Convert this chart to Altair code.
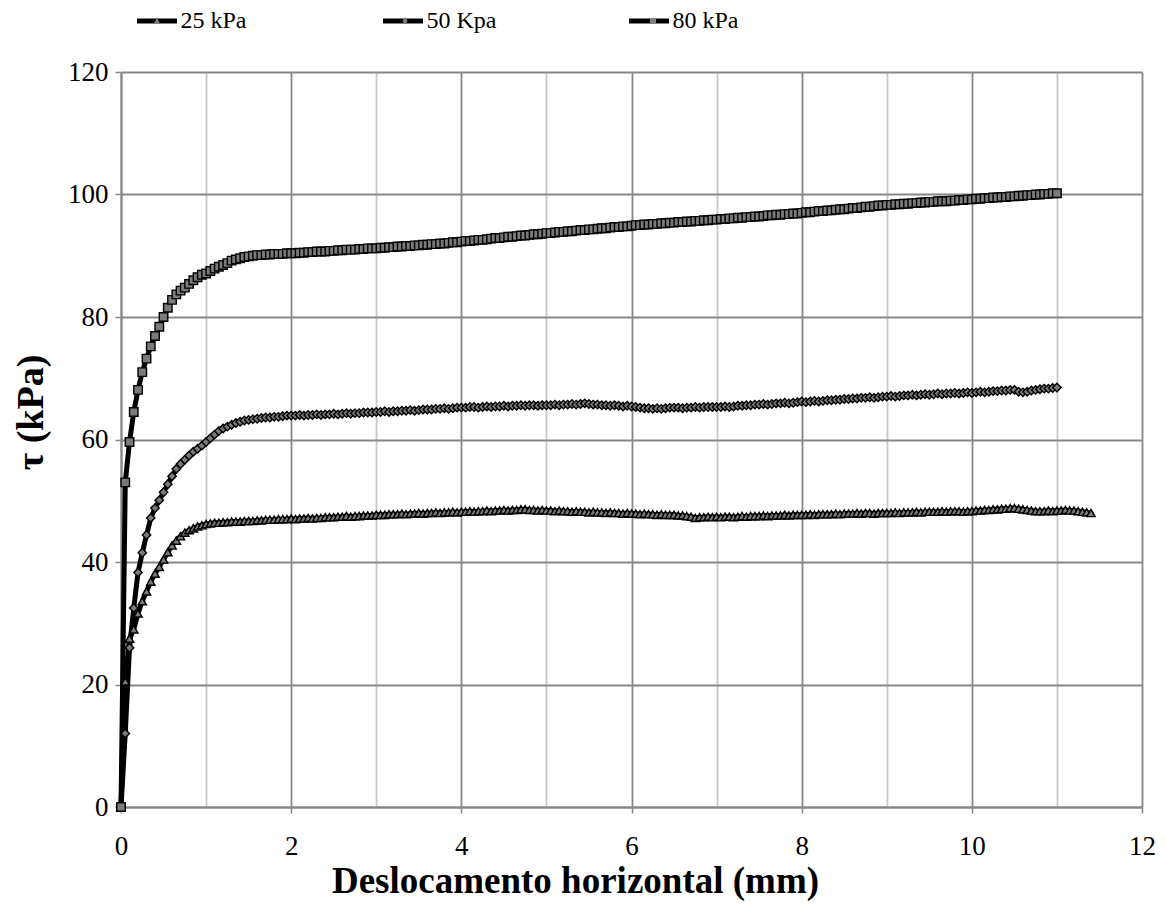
import altair as alt
import pandas as pd

# ---------------- data ----------------
series_names = ["25 kPa", "50 Kpa", "80 kPa"]

desloc = [
    0.0, 0.05, 0.1, 0.15, 0.2, 0.25, 0.3, 0.35, 0.4, 0.45, 0.5, 0.55, 0.6, 0.65, 0.7, 0.75, 0.8, 0.85, 0.9, 0.95,
    1.0, 1.05, 1.1, 1.15, 1.2, 1.25, 1.3, 1.35, 1.4, 1.45, 1.5, 1.55, 1.6, 1.65, 1.7, 1.75, 1.8, 1.85, 1.9, 1.95,
    2.0, 2.05, 2.1, 2.15, 2.2, 2.25, 2.3, 2.35, 2.4, 2.45, 2.5, 2.55, 2.6, 2.65, 2.7, 2.75, 2.8, 2.85, 2.9, 2.95,
    3.0, 3.05, 3.1, 3.15, 3.2, 3.25, 3.3, 3.35, 3.4, 3.45, 3.5, 3.55, 3.6, 3.65, 3.7, 3.75, 3.8, 3.85, 3.9, 3.95,
    4.0, 4.05, 4.1, 4.15, 4.2, 4.25, 4.3, 4.35, 4.4, 4.45, 4.5, 4.55, 4.6, 4.65, 4.7, 4.75, 4.8, 4.85, 4.9, 4.95,
    5.0, 5.05, 5.1, 5.15, 5.2, 5.25, 5.3, 5.35, 5.4, 5.45, 5.5, 5.55, 5.6, 5.65, 5.7, 5.75, 5.8, 5.85, 5.9, 5.95,
    6.0, 6.05, 6.1, 6.15, 6.2, 6.25, 6.3, 6.35, 6.4, 6.45, 6.5, 6.55, 6.6, 6.65, 6.7, 6.75, 6.8, 6.85, 6.9, 6.95,
    7.0, 7.05, 7.1, 7.15, 7.2, 7.25, 7.3, 7.35, 7.4, 7.45, 7.5, 7.55, 7.6, 7.65, 7.7, 7.75, 7.8, 7.85, 7.9, 7.95,
    8.0, 8.05, 8.1, 8.15, 8.2, 8.25, 8.3, 8.35, 8.4, 8.45, 8.5, 8.55, 8.6, 8.65, 8.7, 8.75, 8.8, 8.85, 8.9, 8.95,
    9.0, 9.05, 9.1, 9.15, 9.2, 9.25, 9.3, 9.35, 9.4, 9.45, 9.5, 9.55, 9.6, 9.65, 9.7, 9.75, 9.8, 9.85, 9.9, 9.95,
    10.0, 10.05, 10.1, 10.15, 10.2, 10.25, 10.3, 10.35, 10.4, 10.45, 10.5, 10.55, 10.6, 10.65, 10.7, 10.75, 10.8, 10.85, 10.9, 10.95,
    11.0, 11.05, 11.1, 11.15, 11.2, 11.25, 11.3, 11.35, 11.4,
]

tau_25 = [
    0, 20.5, 27.5, 29.0, 31.6, 33.6, 35.2, 36.8, 38.1, 39.2, 40.4, 41.6, 42.7, 43.5, 44.2, 44.8, 45.2, 45.5, 45.8, 46.0,
    46.2, 46.3, 46.4, 46.4, 46.5, 46.5, 46.6, 46.6, 46.6, 46.7, 46.7, 46.7, 46.8, 46.8, 46.9, 46.9, 46.9, 47.0, 47.0, 47.0,
    47.1, 47.0, 47.1, 47.1, 47.2, 47.1, 47.2, 47.2, 47.3, 47.3, 47.3, 47.4, 47.4, 47.5, 47.4, 47.5, 47.5, 47.6, 47.6, 47.6,
    47.7, 47.7, 47.7, 47.8, 47.8, 47.8, 47.9, 47.8, 47.9, 47.9, 48.0, 47.9, 48.0, 48.0, 48.1, 48.0, 48.1, 48.1, 48.2, 48.1,
    48.2, 48.2, 48.3, 48.2, 48.3, 48.3, 48.4, 48.3, 48.4, 48.4, 48.5, 48.4, 48.5, 48.5, 48.6, 48.6, 48.5, 48.5, 48.4, 48.5,
    48.4, 48.4, 48.3, 48.4, 48.3, 48.3, 48.2, 48.3, 48.2, 48.2, 48.1, 48.2, 48.1, 48.1, 48.0, 48.1, 48.0, 48.0, 47.9, 48.0,
    47.9, 47.9, 47.8, 47.9, 47.8, 47.8, 47.7, 47.8, 47.7, 47.7, 47.7, 47.6, 47.6, 47.5, 47.4, 47.2, 47.3, 47.3, 47.4, 47.3,
    47.4, 47.3, 47.4, 47.4, 47.3, 47.4, 47.5, 47.4, 47.5, 47.5, 47.5, 47.6, 47.5, 47.6, 47.6, 47.6, 47.7, 47.6, 47.7, 47.7,
    47.7, 47.7, 47.8, 47.7, 47.8, 47.8, 47.8, 47.8, 47.9, 47.8, 47.9, 47.9, 47.9, 48.0, 47.9, 48.0, 48.0, 47.9, 48.0, 48.0,
    48.0, 48.0, 48.1, 48.0, 48.1, 48.1, 48.1, 48.2, 48.1, 48.2, 48.2, 48.2, 48.2, 48.3, 48.2, 48.3, 48.3, 48.3, 48.2, 48.3,
    48.3, 48.4, 48.4, 48.5, 48.5, 48.6, 48.6, 48.7, 48.7, 48.8, 48.8, 48.7, 48.6, 48.5, 48.4, 48.3, 48.3, 48.3, 48.4, 48.3,
    48.4, 48.4, 48.5, 48.4, 48.4, 48.3, 48.2, 48.1, 48.0,
]

tau_50 = [
    0, 12.0, 26.0, 32.5, 38.3, 41.5, 44.4, 47.2, 48.8, 50.1, 51.4, 52.7, 54.0, 55.2, 56.0, 56.7, 57.4, 58.0, 58.5, 59.0,
    59.6, 60.2, 60.8, 61.4, 61.8, 62.1, 62.4, 62.7, 62.9, 63.1, 63.2, 63.3, 63.4, 63.5, 63.6, 63.6, 63.7, 63.7, 63.8, 63.9,
    63.9, 63.9, 64.0, 63.9, 64.0, 64.0, 64.1, 64.0, 64.1, 64.1, 64.2, 64.1, 64.2, 64.3, 64.2, 64.3, 64.3, 64.4, 64.4, 64.4,
    64.5, 64.5, 64.6, 64.5, 64.6, 64.6, 64.7, 64.7, 64.8, 64.7, 64.8, 64.9, 64.9, 64.9, 65.0, 65.0, 65.1, 65.0, 65.1, 65.2,
    65.2, 65.2, 65.3, 65.3, 65.2, 65.3, 65.4, 65.3, 65.4, 65.4, 65.5, 65.4, 65.5, 65.5, 65.6, 65.5, 65.6, 65.6, 65.5, 65.6,
    65.6, 65.6, 65.7, 65.6, 65.7, 65.7, 65.8, 65.7, 65.8, 65.9, 65.8, 65.7, 65.7, 65.6, 65.6, 65.5, 65.6, 65.5, 65.4, 65.5,
    65.4, 65.3, 65.2, 65.1, 65.1, 65.0, 65.1, 65.0, 65.1, 65.2, 65.2, 65.2, 65.1, 65.2, 65.2, 65.3, 65.2, 65.3, 65.3, 65.3,
    65.3, 65.3, 65.4, 65.3, 65.4, 65.5, 65.5, 65.6, 65.6, 65.7, 65.7, 65.8, 65.7, 65.8, 65.9, 65.9, 66.0, 65.9, 66.0, 66.1,
    66.2, 66.1, 66.2, 66.3, 66.2, 66.3, 66.4, 66.4, 66.5, 66.5, 66.6, 66.6, 66.7, 66.7, 66.8, 66.8, 66.9, 66.8, 66.9, 67.0,
    67.0, 67.1, 67.0, 67.1, 67.2, 67.2, 67.3, 67.2, 67.3, 67.4, 67.3, 67.4, 67.5, 67.4, 67.5, 67.5, 67.6, 67.5, 67.6, 67.7,
    67.6, 67.7, 67.8, 67.7, 67.8, 67.9, 67.9, 68.0, 68.0, 68.1, 68.1, 67.8, 67.7, 67.8, 68.0, 68.1, 68.2, 68.3, 68.3, 68.4,
    68.5,
]

tau_80 = [
    0, 53.0, 59.6, 64.5, 68.1, 71.0, 73.2, 75.2, 76.9, 78.4, 80.0, 81.5, 82.8, 83.7, 84.3, 84.8, 85.4, 86.0, 86.5, 86.9,
    87.1, 87.5, 87.9, 88.2, 88.5, 88.8, 89.2, 89.4, 89.6, 89.8, 89.9, 90.0, 90.1, 90.1, 90.2, 90.2, 90.3, 90.3, 90.3, 90.4,
    90.4, 90.4, 90.5, 90.5, 90.6, 90.6, 90.7, 90.7, 90.7, 90.8, 90.8, 90.9, 90.9, 91.0, 91.0, 91.0, 91.1, 91.1, 91.2, 91.2,
    91.2, 91.3, 91.3, 91.4, 91.4, 91.5, 91.5, 91.6, 91.6, 91.7, 91.7, 91.8, 91.8, 91.9, 91.9, 92.0, 92.0, 92.1, 92.2, 92.2,
    92.3, 92.4, 92.4, 92.5, 92.6, 92.6, 92.7, 92.8, 92.9, 92.9, 93.0, 93.1, 93.1, 93.2, 93.3, 93.3, 93.4, 93.5, 93.5, 93.6,
    93.7, 93.7, 93.8, 93.9, 93.9, 94.0, 94.0, 94.1, 94.2, 94.2, 94.3, 94.3, 94.4, 94.5, 94.5, 94.6, 94.7, 94.7, 94.8, 94.8,
    94.9, 95.0, 95.0, 95.1, 95.1, 95.2, 95.2, 95.3, 95.3, 95.4, 95.4, 95.5, 95.5, 95.6, 95.6, 95.7, 95.7, 95.8, 95.8, 95.9,
    95.9, 96.0, 96.0, 96.1, 96.1, 96.2, 96.2, 96.3, 96.3, 96.4, 96.4, 96.5, 96.6, 96.6, 96.7, 96.7, 96.8, 96.8, 96.9, 96.9,
    97.0, 97.1, 97.1, 97.2, 97.3, 97.3, 97.4, 97.4, 97.5, 97.6, 97.6, 97.7, 97.8, 97.8, 97.9, 98.0, 98.0, 98.1, 98.2, 98.2,
    98.3, 98.3, 98.4, 98.4, 98.5, 98.5, 98.6, 98.6, 98.7, 98.7, 98.8, 98.8, 98.9, 98.9, 98.9, 99.0, 99.0, 99.1, 99.1, 99.2,
    99.2, 99.3, 99.3, 99.4, 99.4, 99.5, 99.5, 99.6, 99.6, 99.7, 99.7, 99.8, 99.8, 99.9, 99.9, 100.0, 100.0, 100.1, 100.1, 100.2,
    100.2,
]

x_ticks_major = [0, 2, 4, 6, 8, 10, 12]
x_ticks_minor = [1, 3, 5, 7, 9, 11]
y_ticks = [0, 20, 40, 60, 80, 100, 120]

# ---------------- build table ----------------
rows = []
for name, vals in zip(series_names, [tau_25, tau_50, tau_80]):
    for xv, yv in zip(desloc, vals):
        rows.append({"x": xv, "y": yv, "serie": name, "serie_m": name, "serie_leg": name})
df = pd.DataFrame(rows)

FONT = "Liberation Serif"
GRID_MAJOR = "#878787"
GRID_MINOR = "#c8c8c8"
even_test = "datum.value % 2 === 0"
TICK_FS = 27

x_enc = alt.X(
    "x:Q",
    scale=alt.Scale(domain=[0, 12], nice=False, zero=False),
    axis=alt.Axis(
        values=sorted(x_ticks_major + x_ticks_minor),
        format="d",
        labelExpr=f"{even_test} ? datum.label : ''",
        title="Deslocamento horizontal (mm)",
        grid=True,
        gridColor={"condition": {"test": even_test, "value": GRID_MAJOR}, "value": GRID_MINOR},
        gridWidth=1.8,
        tickColor=GRID_MAJOR,
        tickSize=6,
        tickWidth=1.5,
        tickOpacity={"condition": {"test": even_test, "value": 1}, "value": 0},
        domainColor=GRID_MAJOR,
        domainWidth=2,
        labelFont=FONT,
        labelFontSize=TICK_FS,
        labelColor="black",
        labelPadding=20,
        labelFlush=False,
        labelOverlap=False,
        titleFont=FONT,
        titleFontSize=37,
        titleFontWeight="bold",
        titleColor="black",
        titleX=454,
        titleY=74,
        titleAlign="center",
        titleBaseline="middle",
    ),
)

y_enc = alt.Y(
    "y:Q",
    scale=alt.Scale(domain=[0, 120], nice=False),
    axis=alt.Axis(
        values=y_ticks,
        format="d",
        title="τ (kPa)",
        grid=True,
        gridColor=GRID_MAJOR,
        gridWidth=1.8,
        tickColor=GRID_MAJOR,
        tickSize=6,
        tickWidth=1.5,
        domainColor=GRID_MAJOR,
        domainWidth=2,
        labelFont=FONT,
        labelFontSize=TICK_FS,
        labelColor="black",
        labelPadding=7,
        labelOverlap=False,
        titleFont=FONT,
        titleFontSize=38,
        titleFontWeight="bold",
        titleColor="black",
        titleAngle=270,
        titleX=-90,
        titleY=340,
        titleAlign="center",
        titleBaseline="middle",
    ),
)

LEG_X = 13.5
LEG_Y = -66
COL_PAD = 130
LABEL_W = 71  # width of the widest legend label plus its offset

base = alt.Chart(df)

lines = base.mark_line(strokeWidth=5, strokeJoin="round", strokeCap="round").encode(
    x=x_enc,
    y=y_enc,
    color=alt.Color(
        "serie:N",
        scale=alt.Scale(range=["#000000", "#000000", "#000000"]),
        legend=alt.Legend(
            title=None,
            orient="none",
            legendX=LEG_X,
            legendY=LEG_Y,
            direction="horizontal",
            columns=3,
            gridAlign="all",
            symbolType="stroke",
            symbolSize=1600,
            symbolStrokeWidth=5,
            symbolStrokeColor="black",
            labelFont=FONT,
            labelFontSize=24,
            labelColor="black",
            labelOffset=1,
            columnPadding=COL_PAD,
            clipHeight=30,
            padding=0,
            zindex=0,
        ),
    ),
    detail="serie:N",
)

points = base.mark_point(
    filled=True, fill="#7a7a7a", stroke="black", strokeWidth=1.4, opacity=1
).encode(
    x="x:Q",
    y="y:Q",
    shape=alt.Shape(
        "serie_m:N",
        scale=alt.Scale(domain=series_names, range=["triangle-up", "diamond", "square"]),
        legend=None,
    ),
    size=alt.Size(
        "serie:N",
        scale=alt.Scale(domain=series_names, range=[70, 72, 90]),
        legend=None,
    ),
)

legend_paths = [
    "M-1.1,0M1.1,0M0,-0.16L0.15,0.12L-0.15,0.12Z",
    "M-1.1,0M1.1,0M0,-0.18L0.13,0L0,0.18L-0.13,0Z",
    "M-1.1,0M1.1,0M-0.15,-0.15H0.15V0.15H-0.15Z",
]

legend_markers = base.transform_filter("false").mark_point(
    filled=True, fill="#808080", stroke="black", strokeWidth=1, opacity=1
).encode(
    x="x:Q",
    y="y:Q",
    shape=alt.Shape(
        "serie_leg:N",
        scale=alt.Scale(domain=series_names, range=legend_paths),
        legend=alt.Legend(
            title=None,
            orient="none",
            legendX=LEG_X,
            legendY=LEG_Y,
            direction="horizontal",
            columns=3,
            gridAlign="all",
            symbolSize=1600,
            symbolStrokeWidth=1,
            symbolFillColor="#808080",
            symbolStrokeColor="black",
            labelExpr="''",
            labelFont=FONT,
            labelFontSize=24,
            labelOffset=4,
            symbolOffset=2,
            columnPadding=COL_PAD + LABEL_W,
            clipHeight=30,
            padding=0,
            zindex=1,
        ),
    ),
)

chart = (
    alt.layer(lines, points, legend_markers)
    .resolve_scale(shape="independent")
    .properties(
        width=1021,
        height=735,
        autosize=alt.AutoSizeParams(type="none"),
        padding={"left": 113, "top": 64, "right": 14, "bottom": 100},
        background="white",
    )
    .configure(font=FONT)
    .configure_axis(labelFont=FONT, titleFont=FONT)
    .configure_legend(labelFont=FONT)
    .configure_view(stroke=None)
)

chart.save("out.html", embed_options={"renderer": "svg", "actions": False})
